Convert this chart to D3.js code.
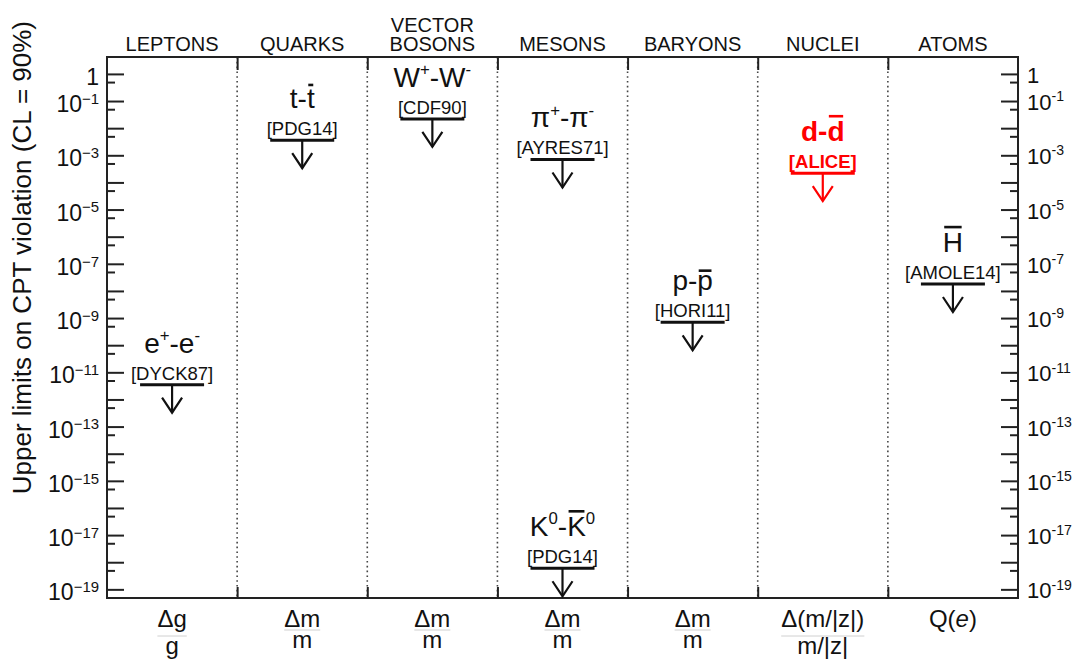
<!DOCTYPE html>
<html>
<head>
    <meta charset="utf-8">
    <style>
        body {
            margin: 0;
            background: #fff;
        }

        svg {
            display: block;
            font-family: 'Liberation Sans', Arial, Helvetica, sans-serif;
        }

        .frame {
            fill: none;
            stroke: #222;
            stroke-width: 2px;
        }

        .axis .domain {
            display: none;
        }

        .axis .tick line {
            stroke: #222;
            stroke-width: 2px;
        }

        .divider {
            stroke: #444;
            stroke-width: 1.6px;
            stroke-dasharray: 1.6 3.2;
        }

        .header {
            font-size: 20px;
            fill: #111;
        }

        .tick_label {
            fill: #111;
        }

        .y_title {
            font-size: 26px;
            fill: #111;
        }

        .frac_line {
            stroke: #d0d0d0;
            stroke-width: 1px;
        }
    </style>
</head>

<body>
    <svg class="cpt_chart" width="1079" height="660"></svg>

<script src="https://cdnjs.cloudflare.com/ajax/libs/d3/7.8.5/d3.min.js"></script>

<script>
    // column categories and the quantity compared in each one
    const categories = ["LEPTONS", "QUARKS", "VECTOR BOSONS", "MESONS", "BARYONS", "NUCLEI", "ATOMS"];
    const quantityTop = ["Δg", "Δm", "Δm", "Δm", "Δm", "Δ(m/|z|)", "Q(#it{e})"];
    const quantityBottom = ["g", "m", "m", "m", "m", "m/|z|", ""];

    // particle / antiparticle pairs and their upper limits
    const pairCategory = ["LEPTONS", "QUARKS", "VECTOR BOSONS", "MESONS", "MESONS", "BARYONS", "NUCLEI", "ATOMS"];
    const pairLabel = ["e^{+}-e^{-}", "t-#bar{t}", "W^{+}-W^{-}", "#pi^{+}-#pi^{-}", "K^{0}-#bar{K}^{0}", "p-#bar{p}", "d-#bar{d}", "#bar{H}"];
    const pairRef = ["[DYCK87]", "[PDG14]", "[CDF90]", "[AYRES71]", "[PDG14]", "[HORI11]", "[ALICE]", "[AMOLE14]"];
    const pairLimit = [3.5e-12, 3.6e-3, 2.2e-2, 7e-4, 6e-19, 7e-10, 2.2e-4, 1.8e-8];
    const highlightRef = "[ALICE]";

    // y axis ticks
    const decadeExps = d3.range(0, -20, -1);
    const labelExps = [0, -1, -3, -5, -7, -9, -11, -13, -15, -17, -19];

    const width = 1079;
    const height = 660;
    const margin = {top: 57, right: 61, bottom: 62, left: 107};

    const svg = d3.select("body").select(".cpt_chart");

    const x = d3.scaleBand()
        .domain(categories)
        .range([margin.left, width - margin.right]);

    const xEdge = d3.scaleLinear()
        .domain([0, categories.length])
        .range([margin.left, width - margin.right]);

    const y = d3.scaleLog()
        .domain([4.8e-20, 4.2])
        .range([height - margin.bottom, margin.top]);

    const yMin = y.domain()[0], yMax = y.domain()[1];
    const majorTicks = decadeExps.map(e => Math.pow(10, e));
    const minorTicks = majorTicks.map(v => v * 0.5).filter(v => v > yMin && v < yMax);

    // --- small parser for ROOT-like labels: ^{..}, #bar{..}, #it{..}, #pi
    function parseMarkup(src) {
        let segs = [];
        let i = 0;
        while (i < src.length) {
            if (src.startsWith("^{", i)) {
                let j = src.indexOf("}", i);
                segs.push({t: src.slice(i + 2, j), sup: true});
                i = j + 1;
            } else if (src.startsWith("#bar{", i)) {
                let j = src.indexOf("}", i);
                segs.push({t: src.slice(i + 5, j), bar: true});
                i = j + 1;
            } else if (src.startsWith("#it{", i)) {
                let j = src.indexOf("}", i);
                segs.push({t: src.slice(i + 4, j), it: true});
                i = j + 1;
            } else if (src.startsWith("#pi", i)) {
                segs.push({t: "π"});
                i += 3;
            } else {
                let last = segs[segs.length - 1];
                if (last && !last.sup && !last.bar && !last.it) {
                    last.t += src[i];
                } else {
                    segs.push({t: src[i]});
                }
                i++;
            }
        }
        return segs;
    }

    function richText(textSel, src, fs, supScale, supRise) {
        let segs = parseMarkup(src);
        let shift = 0;
        segs.forEach(function(s) {
            let ts = textSel.append("tspan").text(s.t);
            let want = s.sup ? -supRise * fs : 0;
            if (want !== shift) {
                ts.attr("dy", want - shift);
                shift = want;
            }
            if (s.sup) ts.attr("font-size", supScale * fs);
            if (s.it) ts.attr("font-style", "italic");
        });
        return segs;
    }

    // glyph height (in em) used to sit an overbar above a letter
    function glyphTop(str) {
        if (/^[acemnoprsuvwxz]+$/.test(str)) return 0.53;
        if (str === "t") return 0.66;
        return 0.72;
    }

    function drawBars(g, textSel, segs, fs, baseY, color) {
        let node = textSel.node();
        let idx = 0;
        segs.forEach(function(s) {
            if (s.bar) {
                let x0 = node.getStartPositionOfChar(idx).x;
                let x1 = node.getEndPositionOfChar(idx + s.t.length - 1).x;
                let yb = baseY - (glyphTop(s.t) + 0.17) * fs;
                g.append("line")
                    .attr("x1", x0 + 0.05 * fs)
                    .attr("x2", x1 - 0.05 * fs)
                    .attr("y1", yb)
                    .attr("y2", yb)
                    .style("stroke", color)
                    .style("stroke-width", 2.6);
            }
            idx += s.t.length;
        });
    }

    // --- dividers between columns
    const edges = d3.range(1, categories.length);

    svg.append("g")
        .selectAll("line")
        .data(edges)
        .join("line")
        .attr("class", "divider")
        .attr("x1", d => xEdge(d))
        .attr("x2", d => xEdge(d))
        .attr("y1", margin.top)
        .attr("y2", height - margin.bottom);

    svg.append("g")
        .attr("class", "x axis")
        .attr("transform", `translate(0, ${margin.top})`)
        .call(d3.axisBottom(xEdge).tickValues(edges).tickSize(13).tickFormat(""));

    svg.append("g")
        .attr("class", "x axis")
        .attr("transform", `translate(0, ${height - margin.bottom})`)
        .call(d3.axisTop(xEdge).tickValues(edges).tickSize(11).tickFormat(""));

    // --- y axes, ticks pointing into the frame
    svg.append("g")
        .attr("class", "y axis")
        .attr("transform", `translate(${margin.left}, 0)`)
        .call(d3.axisRight(y).tickValues(majorTicks).tickSize(17).tickFormat(""));

    svg.append("g")
        .attr("class", "y axis")
        .attr("transform", `translate(${margin.left}, 0)`)
        .call(d3.axisRight(y).tickValues(minorTicks).tickSize(8).tickFormat(""));

    svg.append("g")
        .attr("class", "y axis")
        .attr("transform", `translate(${width - margin.right}, 0)`)
        .call(d3.axisLeft(y).tickValues(majorTicks).tickSize(17).tickFormat(""));

    svg.append("g")
        .attr("class", "y axis")
        .attr("transform", `translate(${width - margin.right}, 0)`)
        .call(d3.axisLeft(y).tickValues(minorTicks).tickSize(8).tickFormat(""));

    svg.append("rect")
        .attr("class", "frame")
        .attr("x", margin.left)
        .attr("y", margin.top)
        .attr("width", width - margin.left - margin.right)
        .attr("height", height - margin.top - margin.bottom);

    // tick labels: left uses a real minus, right a hyphen
    labelExps.forEach(function(e) {
        let v = Math.pow(10, e);
        let left = svg.append("text")
            .attr("class", "tick_label")
            .attr("x", margin.left - 8)
            .attr("y", y(v) + 11)
            .attr("text-anchor", "end")
            .attr("font-size", 23);
        richText(left, e === 0 ? "1" : "10^{" + String(e).replace("-", "−") + "}", 23, 0.65, 0.36);

        let right = svg.append("text")
            .attr("class", "tick_label")
            .attr("x", width - margin.right + 9)
            .attr("y", y(v) + 9)
            .attr("font-size", 22);
        richText(right, e === 0 ? "1" : "10^{" + e + "}", 22, 0.64, 0.4);
    });

    // y title
    svg.append("text")
        .attr("class", "y_title")
        .attr("transform", "translate(31, 21) rotate(-90)")
        .attr("text-anchor", "end")
        .text("Upper limits on CPT violation (CL = 90%)");

    // column headers
    categories.forEach(function(c) {
        let lines = c.split(" ");
        lines.forEach(function(l, i) {
            svg.append("text")
                .attr("class", "header")
                .attr("x", x(c) + x.bandwidth() / 2)
                .attr("y", margin.top - 6 - (lines.length - 1 - i) * 19)
                .attr("text-anchor", "middle")
                .text(l);
        });
    });

    // quantities below the frame, as fractions
    categories.forEach(function(c, i) {
        let cx = x(c) + x.bandwidth() / 2;
        let fs = 24;
        let numY = height - margin.bottom + 29;
        let num = svg.append("text")
            .attr("x", cx)
            .attr("y", numY)
            .attr("text-anchor", "middle")
            .attr("font-size", fs)
            .style("fill", "#111");
        richText(num, quantityTop[i], fs, 0.6, 0.4);

        if (quantityBottom[i] !== "") {
            let w = num.node().getComputedTextLength();
            let lineY = numY + (/[g(|]/.test(quantityTop[i]) ? 9 : 3);
            svg.append("line")
                .attr("class", "frac_line")
                .attr("x1", cx - w / 2)
                .attr("x2", cx + w / 2)
                .attr("y1", lineY)
                .attr("y2", lineY);
            svg.append("text")
                .attr("x", cx)
                .attr("y", lineY + 18)
                .attr("text-anchor", "middle")
                .attr("font-size", fs)
                .style("fill", "#111")
                .text(quantityBottom[i]);
        }
    });

    // limits: horizontal bar, down arrow, pair label and reference
    const pairs = pairLabel.map(function(l, i) {
        return {label: l, ref: pairRef[i], cat: pairCategory[i], limit: pairLimit[i]};
    });

    const marks = svg.append("g");

    pairs.forEach(function(d) {
        let cx = x(d.cat) + x.bandwidth() / 2;
        let cy = y(d.limit);
        let hot = d.ref === highlightRef;
        let color = hot ? "#ff0000" : "#111";
        let g = marks.append("g");

        g.append("line")
            .attr("x1", cx - 32)
            .attr("x2", cx + 32)
            .attr("y1", cy)
            .attr("y2", cy)
            .style("stroke", color)
            .style("stroke-width", 3);

        g.append("line")
            .attr("x1", cx)
            .attr("x2", cx)
            .attr("y1", cy)
            .attr("y2", cy + 28)
            .style("stroke", color)
            .style("stroke-width", 2.2);

        g.append("polyline")
            .attr("points", [[cx - 10, cy + 13], [cx, cy + 28], [cx + 10, cy + 13]].join(" "))
            .style("fill", "none")
            .style("stroke", color)
            .style("stroke-width", 2.2);

        g.append("text")
            .attr("x", cx)
            .attr("y", cy - 5)
            .attr("text-anchor", "middle")
            .attr("font-size", 18.5)
            .attr("font-weight", hot ? "bold" : "normal")
            .style("fill", color)
            .text(d.ref);

        let fs = 28;
        let label = g.append("text")
            .attr("x", cx)
            .attr("y", cy - 32)
            .attr("text-anchor", "middle")
            .attr("font-size", fs)
            .attr("font-weight", hot ? "bold" : "normal")
            .style("fill", color);
        let segs = richText(label, d.label, fs, 0.6, 0.42);
        drawBars(g, label, segs, fs, cy - 32, color);
    });
</script>
</body>
</html>
